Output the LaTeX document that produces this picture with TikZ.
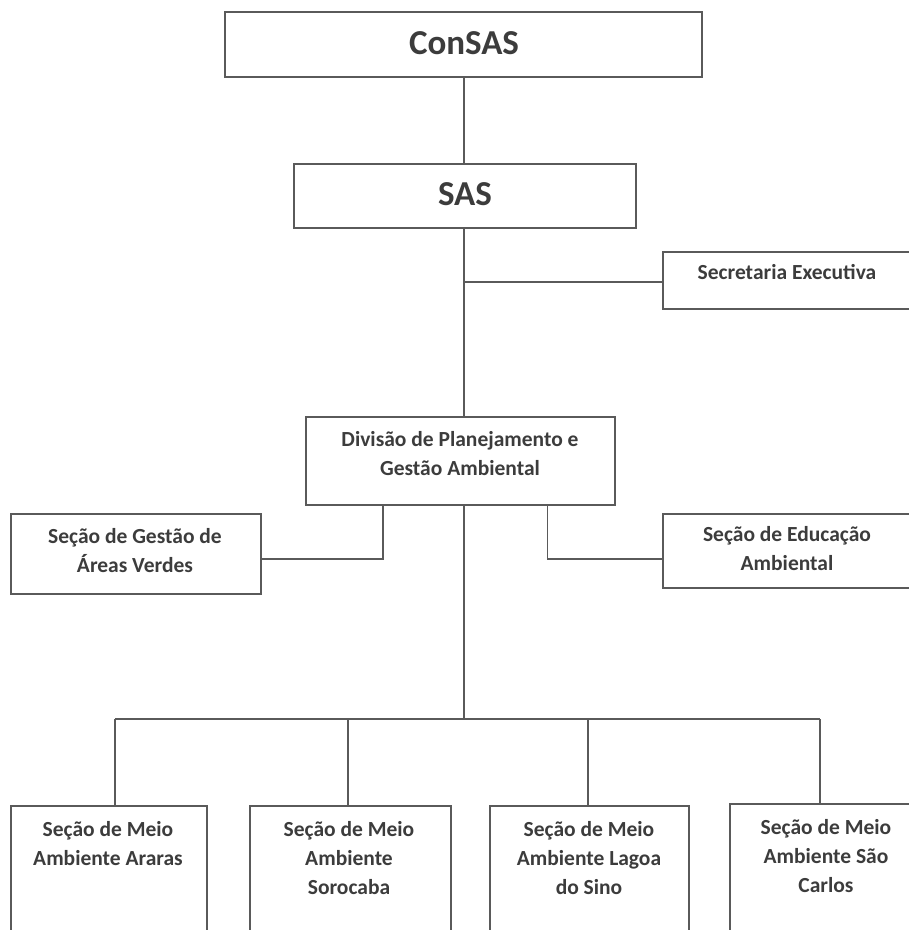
\documentclass[tikz,border=0pt]{standalone}
\usepackage{fontspec}
\setmainfont{Carlito}
\definecolor{linec}{HTML}{5A5A5A}
\definecolor{textc}{HTML}{3C3C3C}
\tikzset{
  box/.style={draw=linec, line width=1.4pt, rectangle, inner sep=0pt},
  lbl/.style={text=textc, font=\bfseries\fontsize{21.5}{29}\selectfont, align=center, inner sep=0pt},
  big/.style={text=textc, font=\bfseries\fontsize{35}{40}\selectfont, inner sep=0pt},
  conn/.style={draw=linec, line width=1.4pt}
}
\newcommand{\boxat}[5]{% name, x1, y1, x2, y2
  \node[box, minimum width={#4-#2}, minimum height={#5-#3}] (#1) at ({(#2+#4)/2},{(#3+#5)/2}) {};}
\begin{document}
\begin{tikzpicture}[x=1pt,y=-1pt]
\useasboundingbox (0,0) rectangle (909,930);
% boxes
\boxat{consas}{225}{12}{702}{77}
\boxat{sas}{294}{164}{636}{228}
\boxat{sec}{663}{252}{925}{309}
\boxat{div}{306}{417}{615}{505}
\boxat{gest}{11}{514}{261}{594}
\boxat{educ}{663}{514}{925}{588}
\boxat{m1}{11}{806}{207}{960}
\boxat{m2}{250}{806}{451}{960}
\boxat{m3}{490}{806}{689}{960}
\boxat{m4}{730}{804}{925}{960}
% labels
\node[big] (tconsas) at (464,43) {ConSAS};
\node[big] (tsas) at (465,194) {SAS};
\node[lbl] (tsec) at (787,272) {Secretaria Executiva};
\node[lbl] (tdiv) at (460,454) {Divisão de Planejamento e\\Gestão Ambiental};
\node[lbl] (tgest) at (135,551) {Seção de Gestão de\\Áreas Verdes};
\node[lbl] (teduc) at (787,549) {Seção de Educação\\Ambiental};
\node[lbl] (tm1) at (108,843.5) {Seção de Meio\\Ambiente Araras};
\node[lbl] (tm2) at (349,858) {Seção de Meio\\Ambiente\\Sorocaba};
\node[lbl] (tm3) at (589,858) {Seção de Meio\\Ambiente Lagoa\\do Sino};
\node[lbl] (tm4) at (826,856) {Seção de Meio\\Ambiente São\\Carlos};
% junction coordinates
\coordinate (spine) at (464,0);
\coordinate (jsec) at (464,282);
\coordinate (jL) at (383,559);
\coordinate (jR) at (547.5,559);
\coordinate (bus) at (464,719);
\coordinate (b1) at (115,719);
\coordinate (b2) at (348,719);
\coordinate (b3) at (588,719);
\coordinate (b4) at (820,719);
% connectors
\draw[conn] (consas.south -| spine) -- (sas.north -| spine);
\draw[conn] (sas.south -| spine) -- (div.north -| spine);
\draw[conn] (jsec) -- (jsec -| sec.west);
\draw[conn] (div.south -| jL) |- (jL -| gest.east);
\draw[conn] (div.south -| jR) |- (jR -| educ.west);
\draw[conn] (div.south -| spine) -- (bus);
\draw[conn] (b1) -- (b4);
\draw[conn] (b1) -- (b1 |- m1.north);
\draw[conn] (b2) -- (b2 |- m2.north);
\draw[conn] (b3) -- (b3 |- m3.north);
\draw[conn] (b4) -- (b4 |- m4.north);
\end{tikzpicture}
\end{document}
